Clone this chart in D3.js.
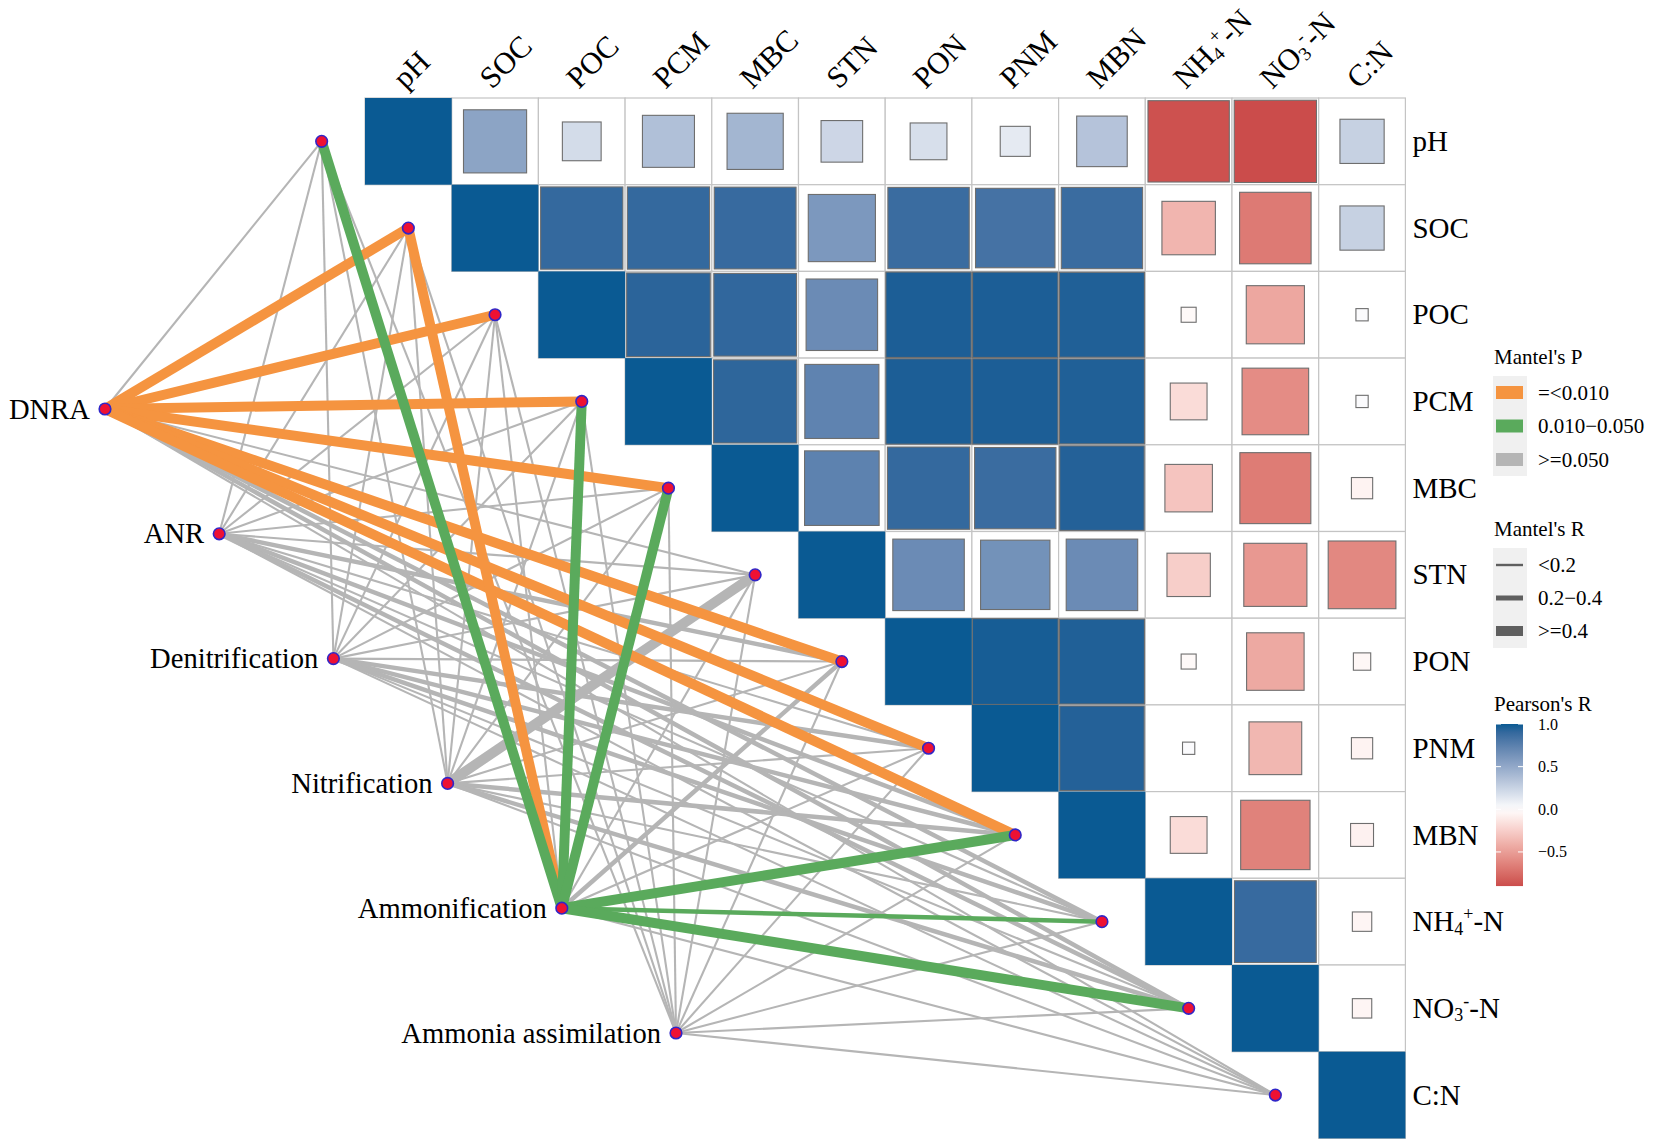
<!DOCTYPE html>
<html>
<head>
<meta charset="utf-8">
<script src="https://cdn.jsdelivr.net/npm/d3@7"></script>
<style>
  html, body { margin: 0; padding: 0; background: #ffffff; }
  svg { display: block; font-family: "Liberation Serif", "Times New Roman", serif; }
</style>
</head>
<body>
<svg id="chart" width="1654" height="1145"></svg>
<script>
// ---------------- DATA ----------------
const variables = ["pH", "SOC", "POC", "PCM", "MBC", "STN", "PON", "PNM", "MBN", "NH4+-N", "NO3--N", "C:N"];

// Pearson's r, upper triangle: row i lists columns i..11
const pearsonR = [
  [1, 0.53, 0.20, 0.36, 0.42, 0.23, 0.18, 0.12, 0.34, -0.88, -0.90, 0.26],
  [1, 0.90, 0.90, 0.89, 0.60, 0.88, 0.84, 0.88, -0.38, -0.68, 0.26],
  [1, 0.93, 0.91, 0.68, 0.97, 0.97, 0.96, -0.03, -0.45, 0.02],
  [1, 0.92, 0.73, 0.97, 0.97, 0.96, -0.18, -0.59, 0.02],
  [1, 0.74, 0.90, 0.88, 0.95, -0.30, -0.67, -0.06],
  [1, 0.68, 0.64, 0.68, -0.25, -0.53, -0.61],
  [1, 0.98, 0.96, -0.03, -0.44, -0.04],
  [1, 0.95, 0.02, -0.37, -0.06],
  [1, -0.18, -0.64, -0.07],
  [1, 0.89, -0.05],
  [1, -0.05],
  [1]
];

const functionsN = ["DNRA", "ANR", "Denitrification", "Nitrification", "Ammonification", "Ammonia assimilation"];

// Mantel's r (estimated) for each function x variable
const mantelR = [
  [0.12, 0.55, 0.55, 0.55, 0.55, 0.15, 0.55, 0.55, 0.55, 0.30, 0.30, 0.10],
  [0.10, 0.10, 0.10, 0.10, 0.10, 0.10, 0.25, 0.15, 0.25, 0.10, 0.25, 0.10],
  [0.10, 0.10, 0.10, 0.10, 0.10, 0.10, 0.10, 0.25, 0.25, 0.25, 0.10, 0.10],
  [0.10, 0.10, 0.10, 0.10, 0.10, 0.45, 0.10, 0.10, 0.25, 0.10, 0.25, 0.10],
  [0.45, 0.45, 0.10, 0.45, 0.45, 0.10, 0.25, 0.10, 0.45, 0.30, 0.45, 0.10],
  [0.10, 0.10, 0.10, 0.10, 0.10, 0.10, 0.10, 0.10, 0.10, 0.10, 0.10, 0.10]
];
// Mantel's p (estimated)
const mantelP = [
  [0.20, 0.001, 0.001, 0.001, 0.001, 0.10, 0.001, 0.001, 0.001, 0.08, 0.09, 0.30],
  [0.30, 0.30, 0.30, 0.30, 0.30, 0.30, 0.20, 0.20, 0.20, 0.30, 0.20, 0.30],
  [0.30, 0.30, 0.30, 0.30, 0.30, 0.30, 0.30, 0.20, 0.20, 0.20, 0.30, 0.30],
  [0.30, 0.30, 0.30, 0.30, 0.30, 0.08, 0.30, 0.30, 0.20, 0.30, 0.20, 0.30],
  [0.03, 0.005, 0.30, 0.02, 0.02, 0.20, 0.10, 0.20, 0.03, 0.04, 0.03, 0.40],
  [0.30, 0.30, 0.30, 0.30, 0.30, 0.30, 0.30, 0.30, 0.30, 0.30, 0.30, 0.30]
];

const pLabels = ["=<0.010", "0.010\u22120.050", ">=0.050"];
const rLabels = ["<0.2", "0.2\u22120.4", ">=0.4"];
const pearsonTicks = [1.0, 0.5, 0.0, -0.5];

// ---------------- LAYOUT / SCALES ----------------
const svg = d3.select("#chart");
const cell = 86.7, gridLeft = 365, gridTop = 98;
const x = d3.scaleBand().domain(variables).range([gridLeft, gridLeft + cell * variables.length]);
const y = d3.scaleBand().domain(variables).range([gridTop, gridTop + cell * variables.length]);
const color = d3.scaleLinear().domain([-1, 0, 1]).range(["#c2333a", "#ffffff", "#0a5a93"]).interpolate(d3.interpolateLab);
const side = d3.scaleSqrt().domain([0, 1]).range([0, cell]);
const orange = "#f59440", green = "#5aaa5c", grey = "#b5b5b5";
const edgeColor = d3.scaleThreshold().domain([0.01, 0.05]).range([orange, green, grey]);
const edgeWidth = d3.scaleThreshold().domain([0.2, 0.4]).range([2.1, 4.5, 10]);
const fx = d3.scaleLinear().domain([0, functionsN.length - 1]).range([105, 676]);
const fy = d3.scaleLinear().domain([0, functionsN.length - 1]).range([409, 1033]);

// rich label helper
function richLabel(sel, name, fs) {
  const parts = {
    "NH4+-N": [["NH"], ["4", "sub"], ["+", "sup"], ["-N"]],
    "NO3--N": [["NO"], ["3", "sub"], ["-", "sup"], ["-N"]]
  }[name] || [[name]];
  let shift = 0;
  parts.forEach(p => {
    const t = sel.append("tspan").text(p[0]);
    let target = 0;
    if (p[1] === "sub") { t.attr("font-size", fs * 0.62); target = fs * 0.12; }
    else if (p[1] === "sup") { t.attr("font-size", fs * 0.62); target = -fs * 0.38; }
    t.attr("dy", target - shift);
    shift = target;
  });
}

// ---------------- CORRELATION MATRIX ----------------
const cells = [];
pearsonR.forEach((row, i) => row.forEach((r, k) => cells.push({ row: variables[i], col: variables[i + k], r })));

const gCells = svg.append("g");
gCells.selectAll("rect.bg").data(cells).join("rect")
  .attr("class", "bg")
  .attr("x", d => x(d.col)).attr("y", d => y(d.row))
  .attr("width", cell).attr("height", cell)
  .attr("fill", "#ffffff").attr("stroke", "#c4c4c4").attr("stroke-width", 1.2);

gCells.selectAll("rect.sq").data(cells).join("rect")
  .attr("class", "sq")
  .attr("x", d => x(d.col) + (cell - side(Math.abs(d.r))) / 2)
  .attr("y", d => y(d.row) + (cell - side(Math.abs(d.r))) / 2)
  .attr("width", d => side(Math.abs(d.r)))
  .attr("height", d => side(Math.abs(d.r)))
  .attr("fill", d => color(d.r))
  .attr("stroke", d => d.row === d.col ? "none" : "#6e6e6e")
  .attr("stroke-width", 1.1);

// column labels (top, rotated)
const fsAxis = 30.5;
variables.forEach(v => {
  const t = svg.append("text")
    .attr("transform", `translate(${x(v) + cell / 2 - 3},${gridTop - 8}) rotate(-45)`)
    .attr("font-size", fsAxis).attr("fill", "#000");
  richLabel(t, v, fsAxis);
});
// row labels (right)
const fsRow = 29;
variables.forEach(v => {
  const t = svg.append("text")
    .attr("x", gridLeft + cell * variables.length + 7)
    .attr("y", y(v) + cell / 2 + fsRow * 0.33)
    .attr("font-size", fsRow).attr("fill", "#000");
  richLabel(t, v, fsRow);
});

// ---------------- MANTEL LINKS ----------------
const varNode = v => [x(v) - cell / 2, y(v) + cell / 2];
const links = [];
functionsN.forEach((f, i) => variables.forEach((v, j) => {
  links.push({ f: i, v, r: mantelR[i][j], p: mantelP[i][j] });
}));
const orderOf = l => (l.p >= 0.05 ? 0 : (l.p < 0.01 ? 1 : 2)) * 10 + edgeWidth(l.r);
links.sort((a, b) => orderOf(a) - orderOf(b));

svg.append("g").selectAll("line").data(links).join("line")
  .attr("x1", d => fx(d.f)).attr("y1", d => fy(d.f))
  .attr("x2", d => varNode(d.v)[0]).attr("y2", d => varNode(d.v)[1])
  .attr("stroke", d => edgeColor(d.p))
  .attr("stroke-width", d => edgeWidth(d.r))
  .attr("stroke-linecap", "butt");

// nodes
const nodeR = 5.8;
svg.append("g").selectAll("circle").data(variables).join("circle")
  .attr("cx", v => varNode(v)[0]).attr("cy", v => varNode(v)[1]).attr("r", nodeR)
  .attr("fill", "#ee1133").attr("stroke", "#3026c8").attr("stroke-width", 1.6);
svg.append("g").selectAll("circle").data(functionsN).join("circle")
  .attr("cx", (d, i) => fx(i)).attr("cy", (d, i) => fy(i)).attr("r", nodeR)
  .attr("fill", "#ee1133").attr("stroke", "#3026c8").attr("stroke-width", 1.6);
svg.append("g").selectAll("text").data(functionsN).join("text")
  .attr("x", (d, i) => fx(i) - 15).attr("y", (d, i) => fy(i) + 9.5)
  .attr("text-anchor", "end").attr("font-size", 28.6).attr("fill", "#000")
  .text(d => d);

// ---------------- LEGENDS ----------------
const lg = svg.append("g");
const lgX = 1494, fsL = 21;
// Mantel's P
lg.append("text").attr("x", lgX).attr("y", 364).attr("font-size", fsL).text("Mantel's P");
lg.append("rect").attr("x", lgX - 1).attr("y", 376).attr("width", 34).attr("height", 100).attr("fill", "#f0f0f0");
const pCols = [orange, green, grey];
pLabels.forEach((lab, i) => {
  const cy = 392.5 + i * 33.5;
  lg.append("rect").attr("x", lgX + 2).attr("y", cy - 6.5).attr("width", 27).attr("height", 13).attr("fill", pCols[i]);
  lg.append("text").attr("x", lgX + 44).attr("y", cy + 7).attr("font-size", fsL).text(lab);
});
// Mantel's R
lg.append("text").attr("x", lgX).attr("y", 536).attr("font-size", fsL).text("Mantel's R");
lg.append("rect").attr("x", lgX - 1).attr("y", 548).attr("width", 34).attr("height", 100).attr("fill", "#f0f0f0");
const rW = [2.4, 5, 10];
rLabels.forEach((lab, i) => {
  const cy = 565 + i * 33;
  lg.append("line").attr("x1", lgX + 2).attr("x2", lgX + 29).attr("y1", cy).attr("y2", cy)
    .attr("stroke", "#5f5f5f").attr("stroke-width", rW[i]);
  lg.append("text").attr("x", lgX + 44).attr("y", cy + 7).attr("font-size", fsL).text(lab);
});
// Pearson's R colorbar
lg.append("text").attr("x", lgX).attr("y", 711).attr("font-size", fsL).text("Pearson's R");
const rmin = d3.min(pearsonR.flat()), rmax = 1.0;
const cbY = d3.scaleLinear().domain([rmax, rmin]).range([724, 724 + (rmax - rmin) * 85.3]);
const defs = svg.append("defs");
const grad = defs.append("linearGradient").attr("id", "cb").attr("x1", 0).attr("x2", 0).attr("y1", 0).attr("y2", 1);
d3.range(0, 1.0001, 0.05).forEach(t => {
  const v = rmax + (rmin - rmax) * t;
  grad.append("stop").attr("offset", t).attr("stop-color", color(v));
});
lg.append("rect").attr("x", lgX + 2).attr("y", cbY(rmax)).attr("width", 27)
  .attr("height", cbY(rmin) - cbY(rmax)).attr("fill", "url(#cb)");
pearsonTicks.forEach(t => {
  const ty = cbY(t);
  lg.append("line").attr("x1", lgX + 2).attr("x2", lgX + 7).attr("y1", ty).attr("y2", ty).attr("stroke", "#fff").attr("stroke-width", 1);
  lg.append("line").attr("x1", lgX + 24).attr("x2", lgX + 29).attr("y1", ty).attr("y2", ty).attr("stroke", "#fff").attr("stroke-width", 1);
  lg.append("text").attr("x", lgX + 44).attr("y", ty + 5.5).attr("font-size", 16)
    .text(t < 0 ? "\u2212" + d3.format(".1f")(-t) : d3.format(".1f")(t));
});
</script>
</body>
</html>
